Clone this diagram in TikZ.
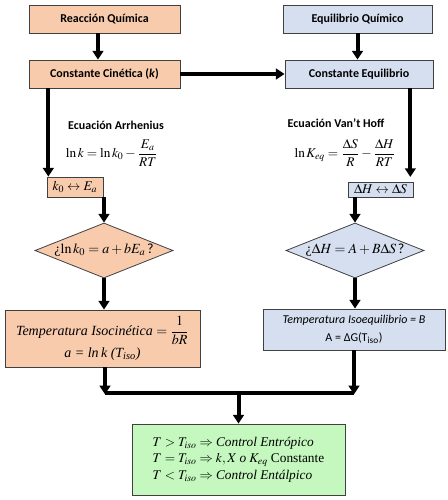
\documentclass[tikz,border=0pt]{standalone}
\usepackage{amsmath}
\usepackage{mathptmx}
\usepackage[no-math]{fontspec}
\setmainfont{Carlito}
\newfontfamily\serif{Liberation Serif}
\usetikzlibrary{shapes.geometric,arrows.meta}
\definecolor{orangef}{HTML}{F8CBAD}
\definecolor{bluef}{HTML}{D5DFEF}
\definecolor{greenf}{HTML}{C4F8BE}
\definecolor{edgec}{HTML}{404040}
\begin{document}
\begin{tikzpicture}[x=0.75pt,y=-0.75pt,
  obox/.style={draw=edgec,line width=0.6pt,fill=orangef,inner sep=0pt},
  bbox/.style={draw=edgec,line width=0.6pt,fill=bluef,inner sep=0pt},
  gbox/.style={draw=edgec,line width=0.6pt,fill=greenf,inner sep=0pt},
  odiam/.style={diamond,draw=edgec,line width=0.6pt,fill=orangef,inner sep=0pt,shape aspect=2.5,minimum width=103.5pt,minimum height=41.25pt},
  bdiam/.style={diamond,draw=edgec,line width=0.6pt,fill=bluef,inner sep=0pt,shape aspect=2.5,minimum width=103.5pt,minimum height=41.25pt},
  arr/.style={line width=3pt,-{Triangle[length=6.5pt,width=8pt]}},
  thickline/.style={line width=3.5pt},
  lbl/.style={font=\fontsize{9}{11}\selectfont\bfseries,inner sep=0pt}]
\useasboundingbox (0,0) rectangle (447,500);

% top boxes
\node[obox,minimum width=113.25pt,minimum height=21pt,font=\fontsize{9}{11}\selectfont\bfseries] (rq) at (104.5,19) {Reacción Química};
\node[bbox,minimum width=111.75pt,minimum height=21pt,font=\fontsize{9}{11}\selectfont\bfseries] (eq) at (357.5,19) {Equilibrio Químico};
\node[obox,minimum width=113.25pt,minimum height=21pt,font=\fontsize{9}{11}\selectfont\bfseries] (ck) at (104.5,74) {Constante Cinética (\textit{k})};
\node[bbox,minimum width=111pt,minimum height=21pt,font=\fontsize{9}{11}\selectfont\bfseries] (ce) at (359,74) {Constante Equilibrio};

% equations
\node[lbl] (ta) at (116,125) {Ecuación Arrhenius};
\node[inner sep=0pt,font=\fontsize{10}{12}\selectfont] (fa) at (112,153) {$\ln k = \ln k_0 - \dfrac{E_a}{RT}$};
\node[lbl] (tv) at (336,123) {Ecuación Van’t Hoff};
\node[inner sep=0pt,font=\fontsize{10}{12}\selectfont] (fv) at (345,153) {$\ln K_{eq} = \dfrac{\Delta S}{R} - \dfrac{\Delta H}{RT}$};

% small boxes
\node[obox,minimum width=42pt,minimum height=15pt,font=\fontsize{10}{12}\selectfont] (k0) at (75,187) {$k_0 \leftrightarrow E_a$};
\node[bbox,minimum width=48.75pt,minimum height=11.25pt,font=\fontsize{10}{12}\selectfont] (dh) at (380.5,189.5) {$\Delta H \leftrightarrow \Delta S$};

% diamonds
\node[odiam,font=\fontsize{10.5}{12}\selectfont] (d1) at (104,250.5) {{\serif ¿}$\ln k_0 = a + bE_a\,$?};
\node[bdiam,font=\fontsize{10.5}{12}\selectfont] (d2) at (355,250.5) {{\serif ¿}$\Delta H = A + B\Delta S\,$?};

% result boxes
\node[obox,minimum width=146.25pt,minimum height=42.75pt,align=center,font=\fontsize{10.5}{13}\selectfont\serif] (bl) at (102.5,338.5)
  {{\itshape Temperatura Isocinética} $= \dfrac{1}{bR}$\\[1pt] {\itshape a = ln\,k (T\textsubscript{iso})}};
\node[bbox,minimum width=136.5pt,minimum height=30.75pt,align=center,font=\fontsize{9}{13}\selectfont] (br) at (354,329.5)
  {{\itshape Temperatura Isoequilibrio = B}\\ A = ΔG(T\textsubscript{iso})};

% final box
\node[gbox,minimum width=159.75pt,minimum height=53.25pt,align=left,font=\fontsize{10}{12.5}\selectfont] (gr) at (238.5,459.5)
  {$T > T_{iso} \Rightarrow$ {\serif\itshape Control Entrópico}\\
   $T = T_{iso} \Rightarrow k, X$ {\serif\itshape o} $K_{eq}$ {\serif Constante}\\
   $T < T_{iso} \Rightarrow$ {\serif\itshape Control Entálpico}};

% connectors
\draw[arr] ([xshift=-4.9pt]rq.south) -- ([xshift=-4.9pt]ck.north);
\draw[arr] (eq.south) -- (eq.south |- ce.north);
\draw[arr] (ck.east) -- (ce.west);

\coordinate (k0a) at ([xshift=1.3pt]k0.north west);
\draw[arr] (ck.south -| k0a) -- (k0a);
\coordinate (dha) at ([xshift=-2.3pt]dh.north east);
\draw[arr] (ce.south -| dha) -- ([yshift=3.5pt]dha);

\draw[arr] (d1.north |- k0.south) -- (d1.north);
\draw[arr] (d2.north |- dh.south) -- (d2.north);
\draw[arr] (d1.south) -- (d1.south |- bl.north);
\draw[arr] (d2.south) -- (d2.south |- br.north);

\coordinate (jl) at (105,393);
\coordinate (jr) at (354,393);
\coordinate (jm) at (238.5,393);
\draw[thickline] (jl) -- (jr);
\draw[arr] (bl.south -| jl) -- ([yshift=-1pt]jl);
\draw[arr] (br.south -| jr) -- ([yshift=-1pt]jr);
\draw[arr] (jm) -- (gr.north);
\end{tikzpicture}
\end{document}
